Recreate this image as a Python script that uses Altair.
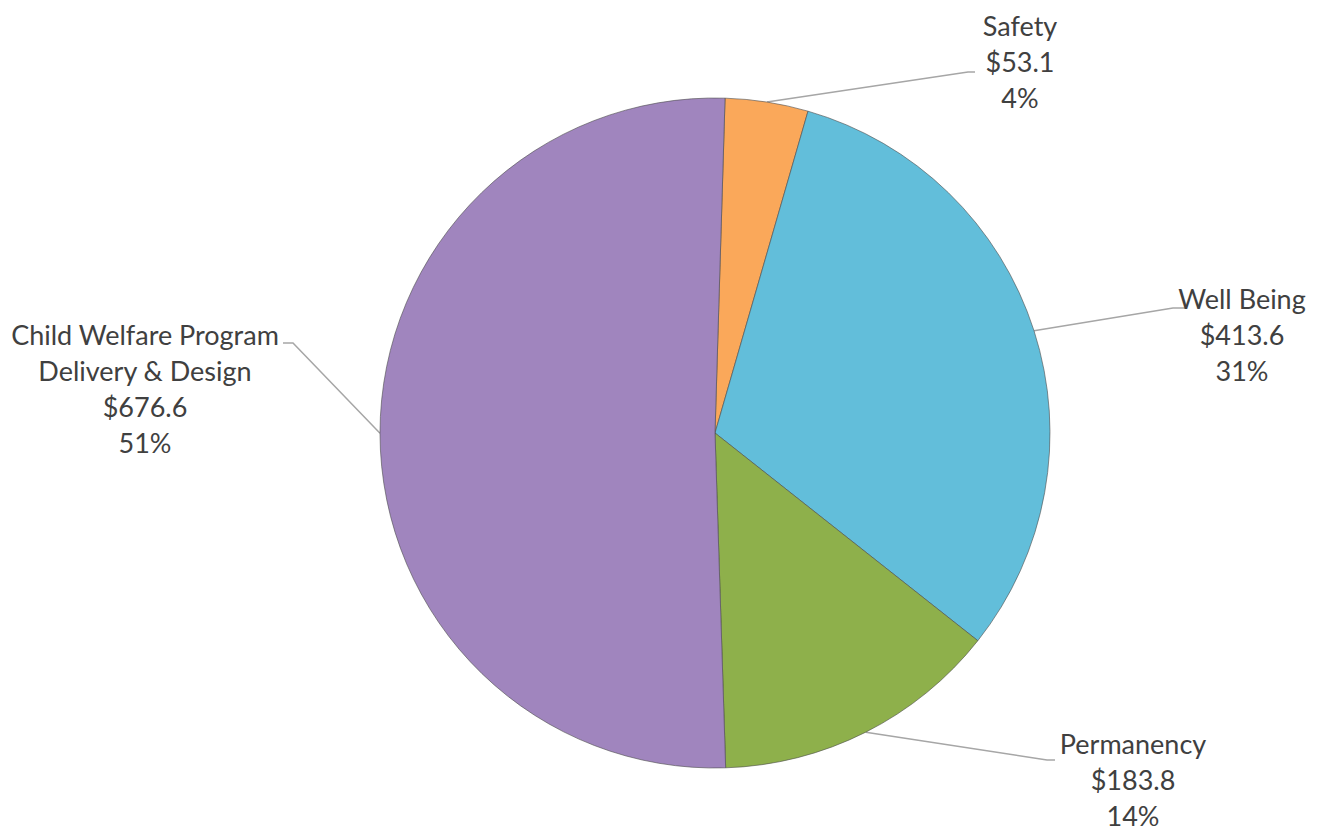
import altair as alt
import pandas as pd
import numpy as np

# ---- data ----
categories = ["Safety", "Well Being", "Permanency", "Child Welfare Program\nDelivery & Design"]
values = [53.1, 413.6, 183.8, 676.6]
colors = ["#FAA85A", "#62BEDA", "#8EB04B", "#A085BE"]

# label annotation anchors (chart pixel space, first-line centre)
label_x = [1012, 1234, 1125, 137]
label_y = [20, 293, 738, 329]
elbow_x = [960, 1165, 1039, 285]
elbow_y = [64, 300, 752, 335]
end_x = [967, 1177, 1047, 275]

W, H = 1302, 824
CX, CY, R = 707, 425, 335
START = 0.03

total = sum(values)
pcts = [v / total * 100 for v in values]
labels = [f"{c}\n${v:.1f}\n{round(p)}%" for c, v, p in zip(categories, values, pcts)]

pie_df = pd.DataFrame({"category": categories, "value": values, "order": list(range(len(values)))})

# leader lines start at slice mid-angle on the rim
cum = 0.0
rows = []
for i, v in enumerate(values):
    mid = START + (cum + v / 2) / total * 2 * np.pi
    cum += v
    sx = CX + R * np.sin(mid)
    sy = CY - R * np.cos(mid)
    rows.append({"id": i, "pt": 0, "x": sx, "y": sy})
    rows.append({"id": i, "pt": 1, "x": elbow_x[i], "y": elbow_y[i]})
    rows.append({"id": i, "pt": 2, "x": end_x[i], "y": elbow_y[i]})
line_df = pd.DataFrame(rows)

text_df = pd.DataFrame({"label": labels, "x": label_x, "y": label_y})

xs = alt.Scale(domain=[0, W], nice=False, zero=False)
ys = alt.Scale(domain=[0, H], nice=False, zero=False, reverse=True)

pie = alt.Chart(pie_df).mark_arc(
    outerRadius=R, stroke="#4d4d4d", strokeWidth=1, strokeOpacity=0.6
).encode(
    theta=alt.Theta("value:Q", stack=True, scale=alt.Scale(range=[START, START + 2 * np.pi])),
    color=alt.Color("category:N", scale=alt.Scale(domain=categories, range=colors), legend=None),
    order=alt.Order("order:Q"),
    x=alt.value(CX),
    y=alt.value(CY),
)

lines = alt.Chart(line_df).mark_line(color="#a6a6a6", strokeWidth=1.5).encode(
    x=alt.X("x:Q", scale=xs, axis=None),
    y=alt.Y("y:Q", scale=ys, axis=None),
    detail="id:N",
    order="pt:Q",
)

texts = alt.Chart(text_df).mark_text(
    font="Lato", fontSize=27, lineHeight=36, align="center", baseline="middle",
    color="#404040", lineBreak="\n",
).encode(
    x=alt.X("x:Q", scale=xs, axis=None),
    y=alt.Y("y:Q", scale=ys, axis=None),
    text="label:N",
)

chart = alt.layer(lines, pie, texts).properties(
    width=W, height=H, autosize="none", padding=0
).configure_view(stroke=None)

chart.save("out.html", embed_options={"renderer": "svg", "actions": False})
